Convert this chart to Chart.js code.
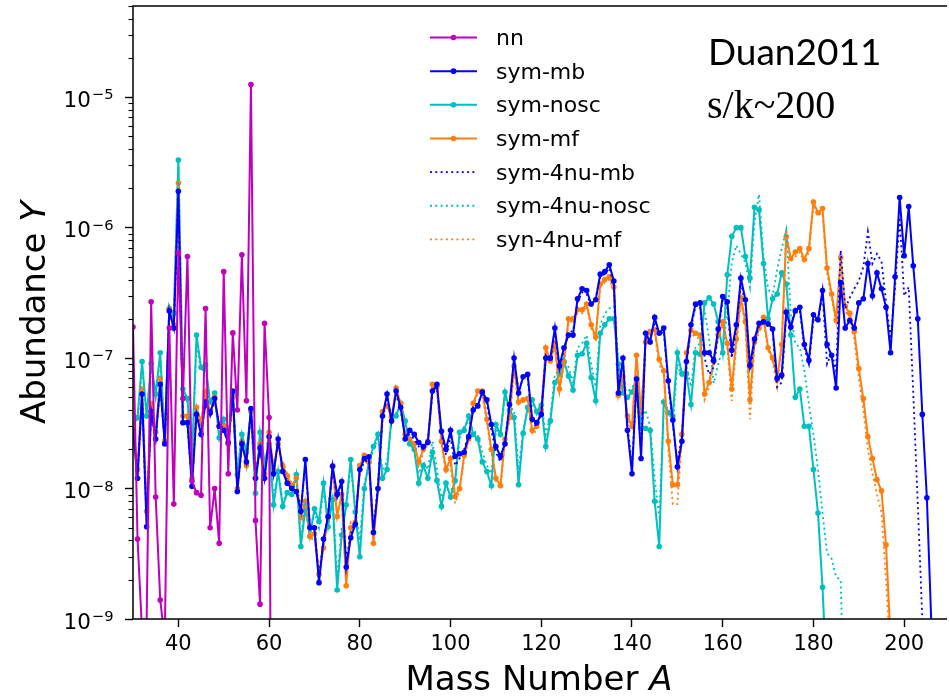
<!DOCTYPE html>
<html>
<head>
<meta charset="utf-8">
<script src="https://cdn.jsdelivr.net/npm/chart.js@4.4.1/dist/chart.umd.min.js"></script>
<style>
  html, body { margin: 0; padding: 0; background: #fff; }
  #wrap { width: 949px; height: 697px; }
</style>
</head>
<body>
<div id="wrap"><canvas id="chart" width="949" height="697"></canvas></div>
<script>
// mass number of the first entry in every series below (A = 30, 31, 32, ...)
const firstMass = 30;
const xTicks = [40, 60, 80, 100, 120, 140, 160, 180, 200];
const yTicks = [1e-9, 1e-8, 1e-7, 1e-6, 1e-5];
const yTickExponents = ['\u22129', '\u22128', '\u22127', '\u22126', '\u22125'];

// nn, A = 30..61
const nn = [
  1.73e-7, 4.1e-9, 8e-10, 9.5e-10, 2.7e-7, 8.6e-9, 1.4e-9, 7e-10, 1.7e-7, 7.6e-9,
  6.4e-7, 4.9e-8, 6.0e-7, 1.14e-8, 9.3e-9, 8.9e-9, 2.4e-7, 5.0e-9, 1.0e-8, 3.8e-9,
  4.6e-7, 1.3e-8, 1.56e-7, 4.0e-8, 6.2e-7, 4.7e-8, 1.25e-5, 5.7e-9, 1.3e-9, 1.85e-7,
  3.5e-8, 1e-13
];

// sym-mb, A = 30..206
const symMb = [
  2.8e-8, 1.2e-8, 5.3e-8, 5.1e-9, 3.9e-8, 2.4e-8, 6.3e-8, 2.2e-8, 2.3e-7, 1.7e-7,
  1.9e-6, 3.2e-8, 3.2e-8, 1.04e-8, 3.7e-8, 2.6e-8, 4.6e-8, 3.8e-8, 4.9e-8, 3.0e-8,
  2.8e-8, 2.25e-8, 5.6e-8, 9.5e-9, 2.2e-8, 1.6e-8, 4.1e-8, 1.2e-8, 2.05e-8, 1.2e-8,
  2.5e-8, 1.3e-8, 2.4e-8, 1.35e-8, 1.1e-8, 1.0e-8, 9.5e-9, 6.7e-9, 1.67e-8, 5.0e-9,
  5.0e-9, 1.9e-9, 4.1e-9, 6.1e-9, 1.48e-8, 9.0e-9, 1.13e-8, 2.5e-9, 4.2e-9, 5.3e-9,
  1.4e-8, 1.7e-8, 1.75e-8, 4.6e-9, 1.0e-8, 3.6e-8, 5.3e-8, 3.3e-8, 5.6e-8, 4.2e-8,
  2.4e-8, 2.8e-8, 2.6e-8, 2.25e-8, 2.1e-8, 2.25e-8, 5.6e-8, 6.3e-8, 2.75e-8, 2.0e-8,
  2.8e-8, 1.77e-8, 1.85e-8, 1.9e-8, 2.5e-8, 4.0e-8, 4.3e-8, 5.5e-8, 4.8e-8, 3.1e-8,
  2.1e-8, 1.77e-8, 2.2e-8, 4.4e-8, 1.0e-7, 5.4e-8, 7.2e-8, 7.5e-8, 3.4e-8, 3.2e-8,
  3.7e-8, 1.0e-7, 1.0e-7, 1.7e-7, 8.7e-8, 1.2e-7, 1.5e-7, 1.5e-7, 2.85e-7, 3.4e-7,
  3.3e-7, 2.6e-7, 2.8e-7, 4.4e-7, 4.6e-7, 5.2e-7, 3.9e-7, 5.4e-8, 1.0e-7, 2.8e-8,
  1.3e-8, 6.9e-8, 1.7e-8, 1.55e-7, 1.33e-7, 2.05e-7, 1.55e-7, 1.7e-7, 6.7e-8, 3.35e-8,
  1.47e-8, 2.3e-8, 9.4e-8, 1.8e-7, 2.6e-7, 2.65e-7, 1.1e-7, 1.1e-7, 9.6e-8, 1.67e-7,
  2.96e-7, 2.7e-7, 1.15e-7, 1.8e-7, 4.1e-7, 2.8e-7, 8.8e-8, 1.4e-7, 1.85e-7, 1.9e-7,
  1.83e-7, 1.67e-7, 7.0e-8, 7.4e-8, 2.25e-7, 1.72e-7, 2.3e-7, 2.45e-7, 1.27e-7, 9.6e-8,
  2.15e-7, 1.97e-7, 3.3e-7, 1.27e-7, 1.05e-7, 5.9e-8, 3.8e-7, 1.7e-7, 1.94e-7, 1.7e-7,
  2.65e-7, 2.85e-7, 5.3e-7, 3.0e-7, 4.5e-7, 3.4e-7, 2.45e-7, 1.1e-7, 4.2e-7, 1.7e-6,
  6.1e-7, 1.45e-6, 5.1e-7, 2.0e-7, 3.7e-8, 8.5e-9, 9e-10
];

// sym-nosc, A = 30..183
const symNosc = [
  3.0e-8, 3.5e-8, 9.4e-8, 3.6e-8, 9.1e-8, 5.3e-8, 1.1e-7, 2.3e-8, 2.4e-7, 2.2e-7,
  3.3e-6, 5.8e-8, 4.9e-8, 1.6e-8, 1.5e-7, 8.5e-8, 8.9e-8, 4.6e-8, 5.4e-8, 2.45e-8,
  3.4e-8, 2.2e-8, 5.2e-8, 1.27e-8, 2.6e-8, 1.9e-8, 3.9e-8, 9.2e-9, 2.7e-8, 1.6e-8,
  2.2e-8, 7.5e-9, 1.35e-8, 7.3e-9, 9.3e-9, 9.0e-9, 1.28e-8, 3.6e-9, 7.1e-9, 4.3e-9,
  7.0e-9, 5.6e-9, 1.1e-8, 5.1e-9, 8.2e-9, 1.67e-9, 4.4e-9, 7.5e-9, 1.67e-8, 6.6e-9,
  3.0e-9, 1.0e-8, 1.6e-8, 2.1e-8, 2.6e-8, 1.2e-8, 1.4e-8, 3.6e-8, 3.6e-8, 4.5e-8,
  3.3e-8, 2.2e-8, 2.0e-8, 1.1e-8, 1.5e-8, 1.2e-8, 1.9e-8, 1.15e-8, 7.3e-9, 1.1e-8,
  8.6e-9, 1.15e-8, 2.7e-8, 2.8e-8, 3.6e-8, 2.6e-8, 2.4e-8, 1.6e-8, 1.35e-8, 1.05e-8,
  3.1e-8, 2.6e-8, 5.5e-8, 4.0e-8, 3.5e-8, 1.07e-8, 2.65e-8, 4.2e-8, 4.8e-8, 3.9e-8,
  4.35e-8, 2.1e-8, 3.3e-8, 6.5e-8, 7.5e-8, 9.4e-8, 7.3e-8, 5.7e-8, 1.05e-7, 1.08e-7,
  1.3e-7, 7.1e-8, 4.7e-8, 1.55e-7, 1.8e-7, 2.0e-7, 2.0e-7, 9.0e-8, 5.4e-8, 5.0e-8,
  5.5e-8, 7.0e-8, 2.9e-8, 2.9e-8, 2.8e-8, 8.0e-9, 3.6e-9, 4.6e-8, 3.8e-8, 3.6e-8,
  1.1e-7, 7.6e-8, 7.6e-8, 4.4e-8, 1.1e-7, 1.07e-7, 2.65e-7, 2.9e-7, 2.6e-7, 1.9e-7,
  1.1e-7, 4.35e-7, 8.6e-7, 1.0e-6, 1.0e-6, 6.0e-7, 4.1e-7, 1.43e-6, 1.37e-6, 5.3e-7,
  2.0e-7, 2.85e-7, 3.1e-7, 4.5e-7, 3.7e-7, 1.5e-7, 5.0e-8, 5.8e-8, 3.0e-8, 3.0e-8,
  1.4e-8, 6.5e-9, 1.75e-9, 3e-10
];

// sym-mf, A = 30..197
const symMf = [
  3.0e-8, 1.4e-8, 5.8e-8, 6.7e-9, 4.5e-8, 2.7e-8, 7.0e-8, 2.3e-8, 2.4e-7, 1.8e-7,
  2.2e-6, 3.6e-8, 3.6e-8, 1.2e-8, 4.2e-8, 3.2e-8, 5.5e-8, 3.8e-8, 5.0e-8, 3.0e-8,
  3.0e-8, 2.2e-8, 5.0e-8, 1.0e-8, 2.3e-8, 1.5e-8, 4.0e-8, 1.2e-8, 2.2e-8, 1.3e-8,
  2.7e-8, 1.4e-8, 2.2e-8, 1.5e-8, 1.25e-8, 1.05e-8, 1.2e-8, 6.0e-9, 8.0e-9, 4.3e-9,
  4.5e-9, 2.2e-9, 3.5e-9, 6.0e-9, 1.5e-8, 6.1e-9, 9.0e-9, 1.8e-9, 5.0e-9, 5.5e-9,
  1.5e-8, 1.8e-8, 1.6e-8, 3.8e-9, 1.0e-8, 3.9e-8, 4.3e-8, 3.5e-8, 5.9e-8, 4.5e-8,
  2.6e-8, 2.4e-8, 2.2e-8, 1.6e-8, 2.0e-8, 2.3e-8, 6.3e-8, 6.0e-8, 2.3e-8, 1.4e-8,
  1.7e-8, 8.7e-9, 1.0e-8, 1.8e-8, 2.4e-8, 4.5e-8, 5.6e-8, 5.6e-8, 3.4e-8, 2.0e-8,
  1.2e-8, 1.05e-8, 2.4e-8, 3.5e-8, 8.7e-8, 4.6e-8, 4.8e-8, 4.9e-8, 2.8e-8, 3.0e-8,
  4.0e-8, 1.2e-7, 9.5e-8, 1.3e-7, 5.8e-8, 9.3e-8, 2.0e-7, 2.0e-7, 2.35e-7, 2.35e-7,
  2.6e-7, 1.8e-7, 1.45e-7, 3.7e-7, 4.0e-7, 4.2e-7, 3.5e-7, 5.2e-8, 7.2e-8, 3.6e-8,
  3.0e-8, 1.05e-7, 3.8e-8, 1.33e-7, 1.6e-7, 1.65e-7, 9.8e-8, 8.0e-8, 2.3e-8, 1.07e-8,
  1.07e-8, 2.6e-8, 1.1e-7, 1.63e-7, 1.55e-7, 1.5e-7, 5.3e-8, 6.5e-8, 9.4e-8, 1.5e-7,
  1.9e-7, 1.3e-7, 5.8e-8, 1.4e-7, 2.9e-7, 1.9e-7, 4.8e-8, 1.33e-7, 1.7e-7, 2.05e-7,
  1.2e-7, 1.0e-7, 6.8e-8, 1.27e-7, 8.5e-7, 5.8e-7, 6.5e-7, 6.9e-7, 5.7e-7, 6.9e-7,
  1.57e-6, 1.3e-6, 1.4e-6, 4.9e-7, 3.1e-7, 1.95e-7, 5.9e-7, 2.5e-7, 2.2e-7, 1.6e-7,
  8.3e-8, 4.9e-8, 2.5e-8, 1.7e-8, 1.17e-8, 9.6e-9, 3.7e-9, 7e-10
];

// sym-4nu-mb, A = 30..205
const sym4nuMb = [
  2.9e-8, 1.3e-8, 5.0e-8, 5.5e-9, 3.7e-8, 2.5e-8, 6.0e-8, 2.3e-8, 2.2e-7, 1.8e-7,
  1.8e-6, 3.4e-8, 3.0e-8, 1.1e-8, 3.9e-8, 2.7e-8, 4.4e-8, 3.6e-8, 4.7e-8, 3.1e-8,
  2.9e-8, 2.1e-8, 5.3e-8, 1.0e-8, 2.1e-8, 1.7e-8, 3.9e-8, 1.3e-8, 2.0e-8, 1.25e-8,
  2.4e-8, 1.35e-8, 2.3e-8, 1.4e-8, 1.15e-8, 1.05e-8, 1.0e-8, 7.0e-9, 1.5e-8, 5.3e-9,
  4.8e-9, 2.1e-9, 4.0e-9, 6.4e-9, 1.4e-8, 8.5e-9, 1.05e-8, 2.8e-9, 4.5e-9, 5.6e-9,
  1.35e-8, 1.6e-8, 1.65e-8, 4.9e-9, 1.05e-8, 3.4e-8, 5.0e-8, 3.5e-8, 5.3e-8, 4.0e-8,
  2.5e-8, 2.6e-8, 2.4e-8, 2.1e-8, 2.0e-8, 2.4e-8, 5.3e-8, 6.0e-8, 2.6e-8, 1.8e-8,
  2.5e-8, 1.5e-8, 1.7e-8, 2.0e-8, 2.6e-8, 4.2e-8, 4.5e-8, 5.3e-8, 4.5e-8, 2.8e-8,
  1.9e-8, 1.6e-8, 2.4e-8, 4.2e-8, 9.5e-8, 5.6e-8, 7.0e-8, 7.0e-8, 3.2e-8, 3.0e-8,
  3.9e-8, 1.05e-7, 9.5e-8, 1.6e-7, 8.2e-8, 1.15e-7, 1.6e-7, 1.6e-7, 2.7e-7, 3.2e-7,
  3.1e-7, 2.5e-7, 2.9e-7, 4.2e-7, 4.4e-7, 4.9e-7, 3.7e-7, 5.8e-8, 9.5e-8, 3.0e-8,
  1.5e-8, 6.5e-8, 1.9e-8, 1.45e-7, 1.4e-7, 1.9e-7, 1.5e-7, 1.6e-7, 6.3e-8, 3.1e-8,
  1.6e-8, 2.5e-8, 9.0e-8, 1.7e-7, 2.5e-7, 2.5e-7, 1.0e-7, 7.5e-8, 8.5e-8, 1.6e-7,
  2.8e-7, 2.5e-7, 1.0e-7, 1.7e-7, 3.8e-7, 2.6e-7, 8.0e-8, 1.3e-7, 1.75e-7, 1.85e-7,
  1.75e-7, 1.6e-7, 6.0e-8, 6.5e-8, 2.1e-7, 1.8e-7, 2.4e-7, 2.3e-7, 1.2e-7, 9.0e-8,
  2.0e-7, 1.9e-7, 3.1e-7, 9.0e-8, 1.1e-7, 8.0e-8, 6.7e-7, 2.4e-7, 2.9e-7, 3.4e-7,
  3.9e-7, 5.0e-7, 9.3e-7, 5.3e-7, 6.3e-7, 5.5e-7, 2.7e-7, 1.4e-7, 3.5e-7, 1.2e-6,
  3.0e-7, 3.5e-7, 5.4e-8, 7.6e-9, 1.0e-9, 2e-10
];

// sym-4nu-nosc, A = 30..187
const sym4nuNosc = [
  3.2e-8, 3.3e-8, 8.5e-8, 3.8e-8, 8.5e-8, 5.0e-8, 1.0e-7, 2.5e-8, 2.5e-7, 2.0e-7,
  3.0e-6, 5.5e-8, 4.6e-8, 1.8e-8, 1.3e-7, 8.0e-8, 8.3e-8, 4.4e-8, 5.1e-8, 2.6e-8,
  3.2e-8, 2.3e-8, 4.9e-8, 1.4e-8, 2.5e-8, 1.8e-8, 3.7e-8, 1.0e-8, 2.5e-8, 1.5e-8,
  2.1e-8, 8.5e-9, 1.3e-8, 8.0e-9, 9.0e-9, 9.5e-9, 1.2e-8, 4.2e-9, 7.5e-9, 4.6e-9,
  6.5e-9, 5.0e-9, 1.0e-8, 5.5e-9, 9.0e-9, 2.0e-9, 5.0e-9, 7.0e-9, 1.5e-8, 7.0e-9,
  4.0e-9, 1.1e-8, 1.5e-8, 2.0e-8, 2.4e-8, 1.4e-8, 1.6e-8, 3.3e-8, 3.8e-8, 4.2e-8,
  3.0e-8, 2.3e-8, 1.9e-8, 1.3e-8, 1.6e-8, 1.4e-8, 2.3e-8, 1.4e-8, 8.5e-9, 1.0e-8,
  9.5e-9, 1.1e-8, 2.4e-8, 3.0e-8, 3.3e-8, 2.8e-8, 2.6e-8, 1.9e-8, 1.5e-8, 1.3e-8,
  2.8e-8, 2.7e-8, 5.0e-8, 4.2e-8, 4.0e-8, 1.4e-8, 2.8e-8, 4.0e-8, 4.5e-8, 3.7e-8,
  4.5e-8, 2.6e-8, 3.6e-8, 7.5e-8, 8.0e-8, 1.0e-7, 8.5e-8, 6.5e-8, 1.2e-7, 1.3e-7,
  1.5e-7, 9.0e-8, 6.0e-8, 1.8e-7, 2.2e-7, 2.4e-7, 2.5e-7, 9.5e-8, 6.0e-8, 5.5e-8,
  6.0e-8, 6.5e-8, 3.3e-8, 4.0e-8, 3.0e-8, 1.2e-8, 6.0e-9, 4.0e-8, 4.2e-8, 3.0e-8,
  9.0e-8, 7.0e-8, 8.5e-8, 6.0e-8, 1.2e-7, 1.3e-7, 2.3e-7, 1.4e-7, 6.4e-8, 9.0e-8,
  1.2e-7, 2.2e-7, 5.4e-7, 7.3e-7, 6.3e-7, 5.4e-7, 3.5e-7, 1.1e-6, 1.8e-6, 6.0e-7,
  3.4e-7, 3.0e-7, 4.8e-7, 6.9e-7, 9.6e-7, 2.2e-7, 1.3e-7, 1.2e-7, 8.0e-8, 4.4e-8,
  2.6e-8, 1.4e-8, 6.5e-9, 3.2e-9, 2.9e-9, 2.1e-9, 2.0e-9, 1e-10
];

// syn-4nu-mf, A = 30..197
const syn4nuMf = [
  3.1e-8, 1.5e-8, 5.5e-8, 7.5e-9, 4.3e-8, 2.8e-8, 6.6e-8, 2.4e-8, 2.3e-7, 1.7e-7,
  2.1e-6, 3.7e-8, 3.4e-8, 1.3e-8, 4.0e-8, 3.3e-8, 5.2e-8, 3.7e-8, 4.8e-8, 3.1e-8,
  2.9e-8, 2.3e-8, 4.8e-8, 1.1e-8, 2.2e-8, 1.6e-8, 3.8e-8, 1.3e-8, 2.1e-8, 1.35e-8,
  2.6e-8, 1.5e-8, 2.1e-8, 1.6e-8, 1.3e-8, 1.1e-8, 1.15e-8, 6.5e-9, 8.5e-9, 4.0e-9,
  4.2e-9, 2.4e-9, 3.8e-9, 6.5e-9, 1.4e-8, 6.5e-9, 8.5e-9, 2.0e-9, 5.5e-9, 5.0e-9,
  1.4e-8, 1.7e-8, 1.5e-8, 4.2e-9, 1.1e-8, 3.7e-8, 4.5e-8, 3.4e-8, 5.6e-8, 4.3e-8,
  2.5e-8, 2.3e-8, 2.1e-8, 1.5e-8, 1.9e-8, 2.2e-8, 6.0e-8, 5.7e-8, 2.2e-8, 1.3e-8,
  1.5e-8, 7.7e-9, 9.5e-9, 1.7e-8, 2.3e-8, 4.3e-8, 5.4e-8, 5.3e-8, 3.2e-8, 1.9e-8,
  1.15e-8, 1.0e-8, 2.3e-8, 3.3e-8, 8.2e-8, 4.4e-8, 4.6e-8, 4.7e-8, 2.6e-8, 2.8e-8,
  3.8e-8, 1.1e-7, 9.0e-8, 1.2e-7, 5.5e-8, 8.8e-8, 1.9e-7, 1.9e-7, 2.2e-7, 2.2e-7,
  2.5e-7, 1.7e-7, 1.4e-7, 3.5e-7, 3.8e-7, 4.0e-7, 3.3e-7, 5.0e-8, 6.8e-8, 3.4e-8,
  2.8e-8, 1.0e-7, 3.6e-8, 1.25e-7, 1.5e-7, 1.55e-7, 9.0e-8, 7.5e-8, 2.0e-8, 7.6e-9,
  7.6e-9, 2.4e-8, 1.0e-7, 1.55e-7, 1.45e-7, 1.4e-7, 4.8e-8, 6.0e-8, 8.8e-8, 1.4e-7,
  1.8e-7, 1.2e-7, 4.7e-8, 1.3e-7, 2.7e-7, 1.8e-7, 3.4e-8, 1.25e-7, 1.6e-7, 1.95e-7,
  1.15e-7, 9.5e-8, 6.0e-8, 1.2e-7, 9.6e-7, 5.5e-7, 6.0e-7, 6.5e-7, 5.4e-7, 6.5e-7,
  1.5e-6, 1.25e-6, 1.3e-6, 4.5e-7, 2.9e-7, 1.85e-7, 5.5e-7, 2.3e-7, 2.0e-7, 1.4e-7,
  7.0e-8, 4.0e-8, 2.0e-8, 1.3e-8, 9.0e-9, 6.5e-9, 2.0e-9, 5e-10
];

const FONT = "'DejaVu Sans', sans-serif";
const MAGENTA = '#bf00bf', BLUE = '#0000ff', CYAN = '#00bfbf', ORANGE = '#ff7f0e';

function toPoints(values) {
  return values.map((v, i) => ({ x: firstMass + i, y: v }));
}

function solid(label, values, color, order) {
  return {
    label: label, data: toPoints(values), order: order,
    borderColor: color, backgroundColor: color, borderWidth: 2,
    pointRadius: 2.8, pointBorderWidth: 0, pointBackgroundColor: color,
    tension: 0, fill: false
  };
}

function dotted(label, values, color, order) {
  return {
    label: label, data: toPoints(values), order: order,
    borderColor: color, backgroundColor: color, borderWidth: 1.8,
    borderDash: [2, 3.3], pointRadius: 0, tension: 0, fill: false
  };
}

// legend order as in the figure
const datasets = [
  solid('nn', nn, MAGENTA, 0),
  solid('sym-mb', symMb, BLUE, 1),
  solid('sym-nosc', symNosc, CYAN, 6),
  solid('sym-mf', symMf, ORANGE, 5),
  dotted('sym-4nu-mb', sym4nuMb, BLUE, 2),
  dotted('sym-4nu-nosc', sym4nuNosc, CYAN, 3),
  dotted('syn-4nu-mf', syn4nuMf, ORANGE, 4)
];

const decor = {
  id: 'decor',
  afterDatasetsDraw(chart) {
    const { ctx, chartArea: a, scales: { y } } = chart;
    ctx.save();
    ctx.strokeStyle = '#000';
    // minor ticks of the log axis
    ctx.lineWidth = 1.1;
    for (let e = -9; e <= -5; e++) {
      for (let m = 2; m <= 9; m++) {
        const v = m * Math.pow(10, e);
        if (v > y.max) break;
        const py = Math.round(y.getPixelForValue(v)) + 0.5;
        ctx.beginPath(); ctx.moveTo(a.left - 4.5, py); ctx.lineTo(a.left, py); ctx.stroke();
      }
    }
    // spines
    ctx.lineWidth = 1.5;
    ctx.beginPath();
    ctx.moveTo(a.right + 2, a.top); ctx.lineTo(a.left, a.top);
    ctx.lineTo(a.left, a.bottom); ctx.lineTo(a.right + 2, a.bottom);
    ctx.stroke();
    ctx.restore();
  },
  afterDraw(chart) {
    const { ctx, chartArea: a, scales: { y } } = chart;
    ctx.save();
    ctx.fillStyle = '#000';
    ctx.textBaseline = 'alphabetic';

    // y tick labels: 10 with a raised exponent
    yTicks.forEach((v, k) => {
      const py = y.getPixelForValue(v);
      ctx.font = '14.7px ' + FONT;
      const we = ctx.measureText(yTickExponents[k]).width;
      ctx.fillText(yTickExponents[k], 113.5 - we, py + 2.3);
      ctx.font = '21.5px ' + FONT;
      const wb = ctx.measureText('10').width;
      ctx.fillText('10', 113.5 - we - 1 - wb, py + 9.6);
    });

    // x axis title
    const t1 = 'Mass Number ';
    ctx.font = 'italic 34px ' + FONT;
    const wA = ctx.measureText('A').width;
    ctx.font = '34px ' + FONT;
    const w1 = ctx.measureText(t1).width;
    const x0 = (a.left + a.right) / 2 - (w1 + wA) / 2;
    ctx.fillText(t1, x0, 690);
    ctx.font = 'italic 34px ' + FONT;
    ctx.fillText('A', x0 + w1, 690);

    // y axis title
    ctx.save();
    ctx.translate(45, (a.top + a.bottom) / 2);
    ctx.rotate(-Math.PI / 2);
    ctx.font = '34px ' + FONT;
    const t2 = 'Abundance ';
    const w2 = ctx.measureText(t2).width;
    ctx.font = 'italic 34px ' + FONT;
    const wY = ctx.measureText('Y').width;
    const y0 = -(w2 + wY) / 2;
    ctx.font = '34px ' + FONT;
    ctx.fillText(t2, y0, 0);
    ctx.font = 'italic 34px ' + FONT;
    ctx.fillText('Y', y0 + w2, 0);
    ctx.restore();

    // annotations
    ctx.font = '37px Lato, ' + FONT;
    ctx.fillText('Duan2011', 708, 65);
    ctx.font = '40px "Liberation Serif", serif';
    ctx.fillText('s/k~200', 707, 118);

    // legend
    ctx.font = '22px ' + FONT;
    chart.data.datasets.forEach((ds, i) => {
      const ry = 37.5 + i * 33.65;
      ctx.save();
      ctx.strokeStyle = ds.borderColor;
      ctx.lineWidth = ds.borderWidth;
      ctx.setLineDash(ds.borderDash || []);
      ctx.beginPath(); ctx.moveTo(430, ry); ctx.lineTo(477, ry); ctx.stroke();
      if (ds.pointRadius > 0) {
        ctx.fillStyle = ds.borderColor;
        ctx.beginPath(); ctx.arc(453.5, ry, ds.pointRadius, 0, Math.PI * 2); ctx.fill();
      }
      ctx.restore();
      ctx.fillText(ds.label, 496, ry + 7.5);
    });
    ctx.restore();
  }
};

new Chart(document.getElementById('chart').getContext('2d'), {
  type: 'line',
  data: { datasets: datasets },
  options: {
    responsive: false,
    maintainAspectRatio: false,
    devicePixelRatio: 1,
    animation: false,
    layout: { padding: { top: 6, right: 0, left: 0, bottom: 0 } },
    plugins: { legend: { display: false }, tooltip: { enabled: false } },
    scales: {
      x: {
        type: 'linear', min: 30, max: 209,
        afterBuildTicks: (scale) => { scale.ticks = xTicks.map(v => ({ value: v })); },
        afterFit: (scale) => { scale.height = 78; scale.paddingLeft = 0; scale.paddingRight = 0; },
        ticks: { color: '#000', font: { family: FONT, size: 21 }, padding: 5, maxRotation: 0, autoSkip: false },
        grid: { display: true, drawOnChartArea: false, drawTicks: true, tickLength: 8, tickWidth: 1.4, tickColor: '#000' },
        border: { display: false }
      },
      y: {
        type: 'logarithmic', min: 1e-9, max: 5e-5,
        afterBuildTicks: (scale) => { scale.ticks = yTicks.map(v => ({ value: v, major: true })); },
        afterFit: (scale) => { scale.width = 133; scale.paddingTop = 0; scale.paddingBottom = 0; },
        ticks: { display: false, autoSkip: false },
        grid: { display: true, drawOnChartArea: false, drawTicks: true, tickLength: 8, tickWidth: 1.4, tickColor: '#000' },
        border: { display: false }
      }
    }
  },
  plugins: [decor]
});
</script>
</body>
</html>
